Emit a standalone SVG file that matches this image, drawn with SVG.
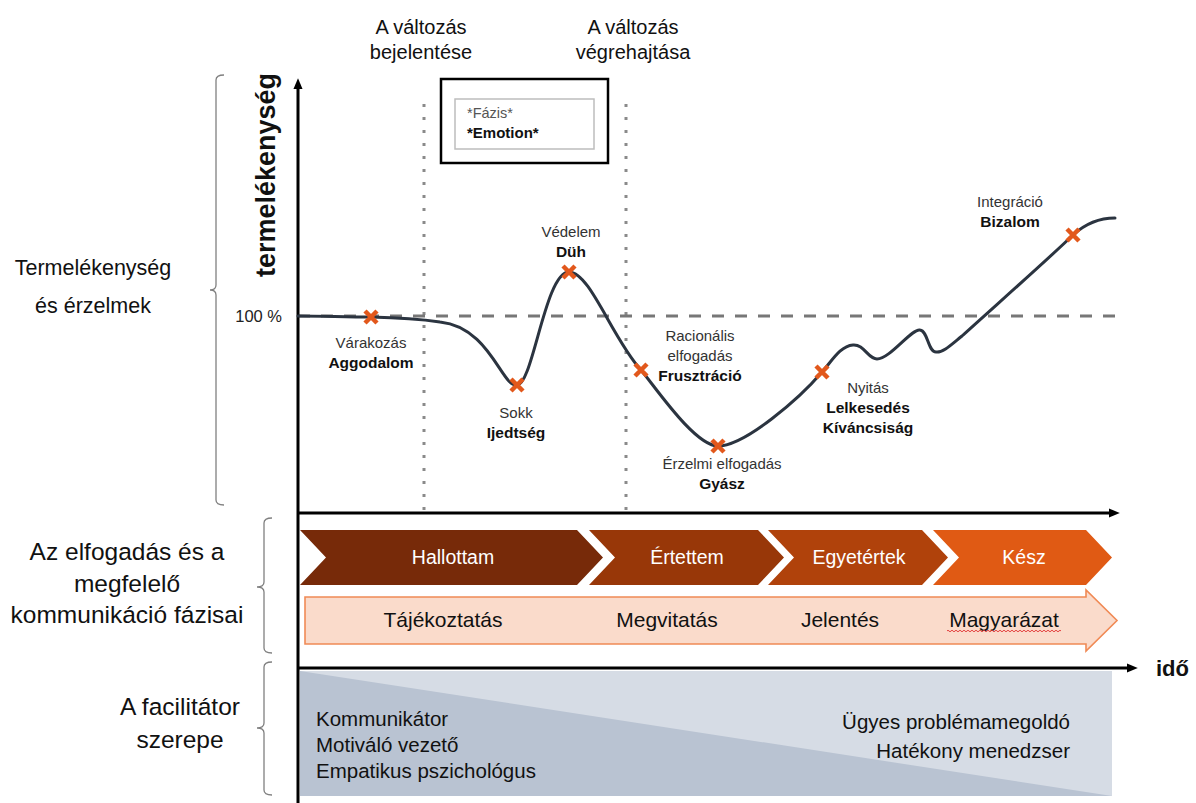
<svg xmlns="http://www.w3.org/2000/svg" xmlns:xlink="http://www.w3.org/1999/xlink" width="1196" height="803" viewBox="0 0 1196 803">
<style>
  text { font-family: "Liberation Sans", Arial, sans-serif; }
  .lbl { font-size: 21.5px; fill: #111; text-anchor: middle; }
  .big { font-size: 24.5px; fill: #111; text-anchor: middle; }
  .top { font-size: 20px; fill: #111; text-anchor: middle; }
  .lt { font-size: 15px; fill: #333; text-anchor: middle; }
  .bd { font-size: 15.5px; font-weight: bold; fill: #111; text-anchor: middle; }
  .chev { font-size: 19.5px; fill: #fff; text-anchor: middle; }
  .pink { font-size: 21px; fill: #111; text-anchor: middle; }
  .role { font-size: 20.5px; fill: #111; }
  .brk { fill: none; stroke: #808080; stroke-width: 1.3; }
  .axis { fill: none; stroke: #000; stroke-width: 3; }
  .dots { stroke: #8a8a8a; stroke-width: 3; stroke-dasharray: 3 10; }
  .cross { fill: none; stroke: #E2581C; stroke-width: 4.5; }
</style>
<defs>
  <marker id="arr" viewBox="0 0 10 10" refX="2" refY="5" markerWidth="11" markerHeight="11" orient="auto" markerUnits="userSpaceOnUse">
    <path d="M0,0.8 L10,5 L0,9.2 z" fill="#000"/>
  </marker>
  <g id="x"><path d="M-6,-6 L6,6 M6,-6 L-6,6"/></g>
</defs>

<rect width="1196" height="803" fill="#fff"/>

<!-- left section labels -->
<g id="lbl-termelekenyseg">
  <text class="lbl" x="93" y="275">Termelékenység</text>
  <text class="lbl" x="93" y="313">és érzelmek</text>
</g>
<g id="lbl-fazisai">
  <text class="big" x="127" y="560">Az elfogadás és a</text>
  <text class="big" x="127" y="592">megfelelő</text>
  <text class="big" x="127" y="623">kommunikáció fázisai</text>
</g>
<g id="lbl-facilitator">
  <text class="big" x="180" y="715">A facilitátor</text>
  <text class="big" x="180" y="748">szerepe</text>
</g>

<!-- brackets -->
<g id="brackets">
  <path class="brk" d="M224,75 Q216,75 216,80 V285 Q216,290 210,290 Q216,290 216,295 V500 Q216,505 224,505"/>
  <path class="brk" d="M272,518 Q264,518 264,523 V582 Q264,587 257,587 Q264,587 264,592 V648 Q264,653 272,653"/>
  <path class="brk" d="M272,662 Q264,662 264,667 V723 Q264,728 257,728 Q264,728 264,733 V790 Q264,795 272,795"/>
</g>

<!-- top labels -->
<g id="lbl-bejelentes">
  <text class="top" x="421" y="34">A változás</text>
  <text class="top" x="421" y="59">bejelentése</text>
</g>
<g id="lbl-vegrehajtas">
  <text class="top" x="633" y="34">A változás</text>
  <text class="top" x="633" y="59">végrehajtása</text>
</g>

<!-- legend -->
<g id="legend">
  <rect x="441" y="79" width="167" height="84" fill="#fff" stroke="#000" stroke-width="2.5"/>
  <rect x="455" y="99" width="139" height="50" fill="#fff" stroke="#bdbdbd" stroke-width="1.5"/>
  <text x="467" y="118" font-size="14.5" fill="#555">*Fázis*</text>
  <text x="467" y="138" font-size="15" font-weight="bold" fill="#111">*Emotion*</text>
</g>

<!-- bottom role panel -->
<g id="role-panel">
  <rect x="300" y="671" width="812" height="125" fill="#D6DCE5"/>
  <path d="M300,671 L1112,796 L300,796 Z" fill="#B9C3D2"/>
  <text class="role" x="316" y="726">Kommunikátor</text>
  <text class="role" x="316" y="752">Motiváló vezető</text>
  <text class="role" x="316" y="778">Empatikus pszichológus</text>
  <text class="role" x="1070" y="729" text-anchor="end">Ügyes problémamegoldó</text>
  <text class="role" x="1070" y="758" text-anchor="end">Hatékony menedzser</text>
</g>

<!-- chevrons -->
<g id="chev-hallottam">
  <path d="M300,530 H577 L603,557.5 L577,585 H300 L326,557.5 Z" fill="#772A09"/>
  <text class="chev" x="453" y="564">Hallottam</text>
</g>
<g id="chev-ertettem">
  <path d="M589,530 H758 L784,557.5 L758,585 H589 L615,557.5 Z" fill="#983708"/>
  <text class="chev" x="687" y="564">Értettem</text>
</g>
<g id="chev-egyetertek">
  <path d="M768,530 H922 L948,557.5 L922,585 H768 L794,557.5 Z" fill="#B0420B"/>
  <text class="chev" x="859" y="564">Egyetértek</text>
</g>
<g id="chev-kesz">
  <path d="M933,530 H1086 L1112,557.5 L1086,585 H933 L959,557.5 Z" fill="#E05A14"/>
  <text class="chev" x="1024" y="564">Kész</text>
</g>

<!-- communication arrow -->
<g id="comm-arrow">
  <path d="M305,597 H1086 V590 L1117,620.5 L1086,651 V644 H305 Z" fill="#FADBCB" stroke="#F08A55" stroke-width="1.6"/>
  <text class="pink" x="443" y="627">Tájékoztatás</text>
  <text class="pink" x="667" y="627">Megvitatás</text>
  <text class="pink" x="840" y="627">Jelentés</text>
  <text class="pink" x="1004" y="627">Magyarázat</text>
  <path d="M947,631 q1,-1.6 2,0 t2,0 t2,0 t2,0 t2,0 t2,0 t2,0 t2,0 t2,0 t2,0 t2,0 t2,0 t2,0 t2,0 t2,0 t2,0 t2,0 t2,0 t2,0 t2,0 t2,0 t2,0 t2,0 t2,0 t2,0 t2,0 t2,0 t2,0 t2,0 t2,0 t2,0 t2,0 t2,0 t2,0 t2,0 t2,0 t2,0 t2,0 t2,0 t2,0 t2,0 t2,0 t2,0 t2,0 t2,0 t2,0 t2,0 t2,0 t2,0 t2,0 t2,0 t2,0 t2,0 t2,0 t2,0 t2,0 t2,0" fill="none" stroke="#E03030" stroke-width="0.9"/>
</g>

<!-- connectors: axes, guides, curve -->
<g id="connectors">
  <line class="dots" x1="424" y1="104" x2="424" y2="510"/>
  <line class="dots" x1="626" y1="104" x2="626" y2="510"/>
  <line x1="298" y1="316" x2="1123" y2="316" stroke="#777" stroke-width="3" stroke-dasharray="12 11"/>
  <line class="axis" x1="298" y1="803" x2="298" y2="87" marker-end="url(#arr)"/>
  <line class="axis" x1="297" y1="513" x2="1111" y2="513" marker-end="url(#arr)"/>
  <line class="axis" x1="297" y1="668" x2="1129" y2="668" marker-end="url(#arr)"/>
  <path id="curve" fill="none" stroke="#2B3440" stroke-width="3" stroke-linecap="round"
    d="M298,316 C322,316 347,317 371,317 C395,317.5 420,319 440,322 C490,327 502,388 517,385
       C533,385 545,272 569,272 C590,272 612,338 641,370 C656,388 695,446 718,446
       C745,446 800,398 822,372 C832,361 840,346 853,345 C864,344 868,359 877,359
       C890,359 912,328 920,330 C928,331 928,352 936,352 C943,353 952,344 962,336
       C995,306 1045,262 1073,235 C1085,224 1100,218 1115,218"/>
</g>

<!-- axis labels -->
<g id="axis-y-label">
  <text x="275" y="0" font-size="27" font-weight="bold" fill="#111" text-anchor="middle" transform="translate(0,175) rotate(-90 275 0)">termelékenység</text>
</g>
<g id="lbl-100">
  <text x="282" y="322" font-size="16.5" fill="#222" text-anchor="end">100 %</text>
</g>
<g id="axis-x-label">
  <text x="1156" y="676" font-size="22" font-weight="bold" fill="#111">idő</text>
</g>

<!-- phase points -->
<g id="pt-aggodalom">
  <use href="#x" x="371" y="317" class="cross"/>
  <text class="lt" x="371" y="348">Várakozás</text>
  <text class="bd" x="371" y="368">Aggodalom</text>
</g>
<g id="pt-ijedtseg">
  <use href="#x" x="517" y="385" class="cross"/>
  <text class="lt" x="516" y="418">Sokk</text>
  <text class="bd" x="516" y="438">Ijedtség</text>
</g>
<g id="pt-duh">
  <use href="#x" x="569" y="272" class="cross"/>
  <text class="lt" x="571" y="237">Védelem</text>
  <text class="bd" x="571" y="257">Düh</text>
</g>
<g id="pt-frusztracio">
  <use href="#x" x="641" y="370" class="cross"/>
  <text class="lt" x="700" y="341">Racionális</text>
  <text class="lt" x="700" y="361">elfogadás</text>
  <text class="bd" x="700" y="381">Frusztráció</text>
</g>
<g id="pt-gyasz">
  <use href="#x" x="718" y="446" class="cross"/>
  <text class="lt" x="722" y="469">Érzelmi elfogadás</text>
  <text class="bd" x="722" y="489">Gyász</text>
</g>
<g id="pt-lelkesedes">
  <use href="#x" x="822" y="372" class="cross"/>
  <text class="lt" x="868" y="393">Nyitás</text>
  <text class="bd" x="868" y="413">Lelkesedés</text>
  <text class="bd" x="868" y="433">Kíváncsiság</text>
</g>
<g id="pt-bizalom">
  <use href="#x" x="1073" y="235" class="cross"/>
  <text class="lt" x="1010" y="207">Integráció</text>
  <text class="bd" x="1010" y="227">Bizalom</text>
</g>
</svg>
